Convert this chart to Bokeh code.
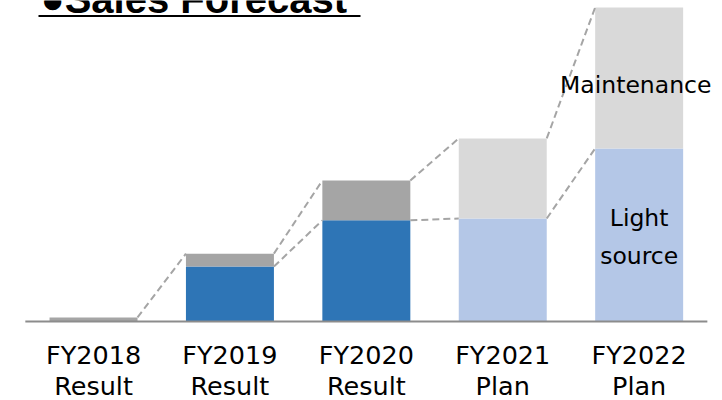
from bokeh.plotting import figure
from bokeh.models import ColumnDataSource, Label, BoxAnnotation, Range1d
from bokeh.core.properties import value
from bokeh.embed import file_html
from bokeh.resources import INLINE

# ---- data ----
years = ["FY2018", "FY2019", "FY2020", "FY2021", "FY2022"]
kinds = ["Result", "Result", "Result", "Plan", "Plan"]
light_source = [0.0, 17.5, 32.2, 32.8, 55.1]
maintenance = [1.3, 4.1, 12.7, 25.5, 44.9]

# ---- styles ----
light_colors = ["#2E75B6", "#2E75B6", "#2E75B6", "#B4C7E7", "#B4C7E7"]
maint_colors = ["#A5A5A5", "#A5A5A5", "#A5A5A5", "#D9D9D9", "#D9D9D9"]
bar_w = 0.645

n = len(years)
xs = list(range(n))
totals = [a + b for a, b in zip(light_source, maintenance)]

W, H = 722, 400
p = figure(width=W, height=H, output_backend="svg", toolbar_location=None,
           x_range=Range1d(-0.682, 4.611), y_range=Range1d(-25.16, 102.2),
           min_border_left=0, min_border_right=0, min_border_top=0,
           min_border_bottom=0)
p.outline_line_color = None
p.background_fill_color = "white"
p.border_fill_color = "white"
p.xgrid.visible = False
p.ygrid.visible = False
p.xaxis.visible = False
p.yaxis.visible = False

src = ColumnDataSource(dict(x=xs, light=light_source, total=totals,
                            zero=[0] * n, lc=light_colors, mc=maint_colors))
p.vbar(x="x", width=bar_w, bottom="zero", top="light", fill_color="lc",
       line_color=None, source=src)
p.vbar(x="x", width=bar_w, bottom="light", top="total", fill_color="mc",
       line_color=None, source=src)

# dashed connectors between bar corners
x0, x1, y0, y1 = [], [], [], []
for i in range(n - 1):
    x0.append(i + bar_w / 2); x1.append(i + 1 - bar_w / 2)
    y0.append(totals[i]); y1.append(totals[i + 1])
    if light_source[i] > 0:
        x0.append(i + bar_w / 2); x1.append(i + 1 - bar_w / 2)
        y0.append(light_source[i]); y1.append(light_source[i + 1])
p.segment(x0=x0, y0=y0, x1=x1, y1=y1, line_color="#A5A5A5", line_width=2,
          line_dash="7 4")

# baseline (category axis line)
p.segment(x0=[-0.5], y0=[0], x1=[n - 0.5], y1=[0], line_color="#8C8C8C",
          line_width=2)

# category labels below the axis
p.text(x=xs, y=[-10.8] * n, text=years, text_font=value("DejaVu Sans"),
       text_font_size="25.5px", text_align="center", text_baseline="middle",
       text_color="#000000")
p.text(x=xs, y=[-20.4] * n, text=kinds, text_font=value("DejaVu Sans"),
       text_font_size="25.5px", text_align="center", text_baseline="middle",
       text_color="#000000")

# in-bar series labels
p.text(x=[3.975, 4, 4], y=[75.2, 32.8, 21.0], text=["Maintenance", "Light", "source"],
       text_font=value("DejaVu Sans"), text_font_size="23.5px",
       text_align="center", text_baseline="middle", text_color="#000000")

# title (partly cut at the top edge, as in the reference)
p.add_layout(Label(x=40, y=H + 2, x_units="screen", y_units="screen",
                   text="●Sales Forecast", text_font="Liberation Sans",
                   text_font_style="bold", text_font_size="40px",
                   text_color="#000000", text_baseline="alphabetic"))
p.add_layout(BoxAnnotation(left=38, right=360, bottom=H - 16.5, top=H - 14.5,
                           left_units="screen", right_units="screen",
                           top_units="screen", bottom_units="screen",
                           fill_color="#000000", fill_alpha=1.0, line_color=None))

open("out.html", "w").write(file_html(p, INLINE))
